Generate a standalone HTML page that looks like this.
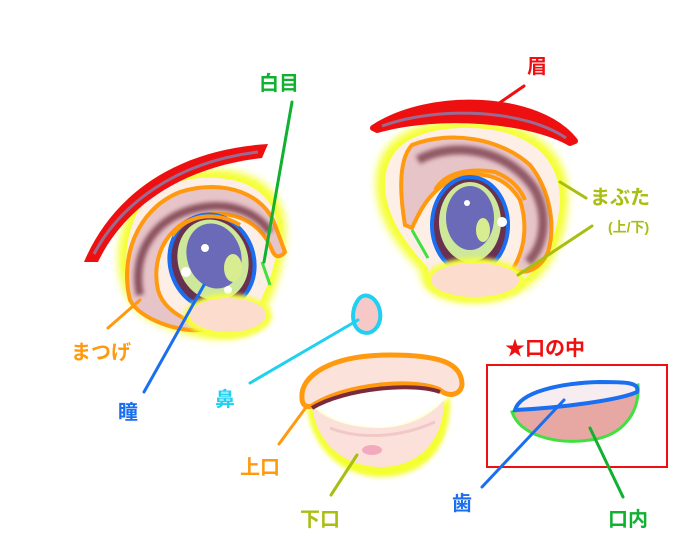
<!DOCTYPE html>
<html><head><meta charset="utf-8"><style>
html,body{margin:0;padding:0;background:#fff;}
svg{display:block;}
text{font-family:"Liberation Sans","Noto Sans CJK JP",sans-serif;font-weight:bold;}
</style></head><body>
<svg width="700" height="560" viewBox="0 0 700 560" xmlns="http://www.w3.org/2000/svg">
<defs>
<filter id="blur" x="-20%" y="-20%" width="140%" height="140%"><feGaussianBlur stdDeviation="4"/></filter>
<filter id="b2"><feGaussianBlur stdDeviation="2"/></filter>
</defs>
<rect width="700" height="560" fill="#fff"/>

<!-- LEFT EYE -->
<path d="M200,170 C260,165 290,195 285,240 C282,280 270,300 260,320 C250,345 200,345 150,320 C115,300 110,250 130,210 C145,185 175,172 200,170Z" fill="#f4ff30" filter="url(#blur)"/>
<path d="M200,178 C255,175 280,200 278,240 C275,275 262,298 252,318 C240,338 200,336 155,316 C122,298 120,252 136,215 C150,190 175,180 200,178Z" fill="#fdeee6"/>
<path d="M84,262 C110,200 170,150 268,144 L262,158 C175,168 122,212 98,262Z" fill="#ee1010"/>
<path d="M94,254 C120,205 175,162 258,152" stroke="#9a6a90" stroke-width="3" fill="none"/>
<path d="M130,300 C120,260 135,210 180,192 C225,178 265,195 275,225 L285,252 C280,258 275,258 272,250 C262,225 240,212 210,214 C170,218 150,255 158,290 C162,305 175,315 192,322 L200,330 C180,332 140,320 130,300Z" fill="#e7c4c8" stroke="#ff9a10" stroke-width="4"/>
<path d="M140,295 C132,258 150,222 190,210 C225,200 255,210 270,232" stroke="#6a2a3a" stroke-width="8" fill="none" opacity=".75" filter="url(#b2)"/>
<ellipse cx="212" cy="262" rx="42" ry="48" transform="rotate(-18 212 262)" fill="#6a3050" stroke="#1a6ef0" stroke-width="4"/>
<ellipse cx="213" cy="260" rx="35" ry="41" transform="rotate(-18 213 260)" fill="#cde89a"/>
<ellipse cx="214" cy="256" rx="27" ry="33" transform="rotate(-18 214 256)" fill="#6a6ab8"/>
<ellipse cx="233" cy="268" rx="9" ry="14" fill="#d8ec90"/>
<circle cx="205" cy="248" r="4" fill="#fff"/>
<circle cx="186" cy="272" r="5" fill="#fff"/>
<circle cx="228" cy="290" r="4" fill="#fff"/>
<path d="M172,236 C185,215 215,210 240,225" stroke="#ff9a10" stroke-width="4" fill="none"/>
<path d="M262,262 L270,285" stroke="#40e040" stroke-width="3"/>
<ellipse cx="228" cy="316" rx="44" ry="22" fill="#f6ff40" filter="url(#b2)"/>
<ellipse cx="228" cy="315" rx="38" ry="17" fill="#fcdccd"/>

<!-- RIGHT EYE -->
<path d="M460,120 C530,118 570,150 568,200 C566,250 540,300 480,302 C440,304 420,290 420,270 C400,250 375,220 376,180 C378,140 410,122 460,120Z" fill="#f4ff30" filter="url(#blur)"/>
<path d="M460,128 C525,126 560,155 560,200 C558,245 535,292 480,294 C445,296 428,284 428,268 C410,248 384,218 385,182 C387,145 415,130 460,128Z" fill="#fdeee6"/>
<path d="M373,128 C430,90 540,95 575,141 L570,143 C530,120 440,112 377,130Z" fill="#ee1010" stroke="#ee1010" stroke-width="6" stroke-linejoin="round"/>
<path d="M382,126 C440,105 525,110 566,138" stroke="#9a6a90" stroke-width="3" fill="none"/>
<path d="M405,225 C400,195 398,160 412,145 C450,130 500,138 530,165 C550,190 556,225 548,252 C540,270 525,275 512,270 C525,250 528,225 520,200 C505,175 480,170 455,178 C430,190 420,210 412,228Z" fill="#e7c4c8" stroke="#ff9a10" stroke-width="4"/>
<path d="M418,160 C455,140 510,150 535,190 C548,215 545,245 528,262" stroke="#6a2a3a" stroke-width="9" fill="none" opacity=".7" filter="url(#b2)"/>
<ellipse cx="470" cy="225" rx="38" ry="48" fill="#6a3050" stroke="#1a6ef0" stroke-width="4"/>
<ellipse cx="470" cy="222" rx="31" ry="40" fill="#cde89a"/>
<ellipse cx="470" cy="218" rx="24" ry="32" fill="#6a6ab8"/>
<ellipse cx="483" cy="230" rx="7" ry="12" fill="#d8ec90"/>
<circle cx="467" cy="203" r="3" fill="#fff"/>
<circle cx="502" cy="222" r="5" fill="#fff"/>
<path d="M435,190 C445,172 470,168 495,172 C510,178 520,188 525,200" stroke="#ff9a10" stroke-width="4" fill="none"/>
<path d="M412,230 L428,258" stroke="#40e040" stroke-width="3"/>
<ellipse cx="475" cy="280" rx="50" ry="22" fill="#f6ff40" filter="url(#b2)"/>
<ellipse cx="475" cy="280" rx="44" ry="17" fill="#fcdccd"/>

<!-- NOSE -->
<path d="M358,300 C365,290 378,298 380,312 C382,326 372,336 362,332 C352,328 350,312 358,300Z" fill="#f6c9c8" stroke="#20d0f0" stroke-width="4"/>

<!-- MOUTH -->
<path d="M306,402 C310,445 338,476 380,477 C428,477 452,444 450,396 C430,420 400,430 380,430 C350,430 325,422 306,402Z" fill="#f4ff30" filter="url(#b2)"/>
<path d="M312,406 C316,440 340,466 380,467 C422,467 444,438 444,400 C428,420 400,428 380,428 C350,428 326,420 312,406Z" fill="#fce0da"/>
<path d="M330,428 C355,438 395,440 435,422" stroke="#f0c8c8" stroke-width="3" fill="none"/>
<ellipse cx="372" cy="450" rx="10" ry="5" fill="#f3aabe"/>
<path d="M302,398 C300,376 330,355 390,355 C440,355 462,363 462,385 C460,396 448,397 440,390 C415,378 345,384 312,406 C305,408 302,404 302,398Z" fill="#fbe2da" stroke="#ff9a10" stroke-width="5"/>
<path d="M312,408 C345,388 415,382 440,392" stroke="#7a2a3a" stroke-width="4" fill="none"/>

<!-- BOX -->
<rect x="487" y="365" width="180" height="102" fill="none" stroke="#ee1010" stroke-width="2"/>
<path d="M512,412 C520,435 555,445 590,440 C625,436 640,410 638,385 C600,395 540,405 512,412Z" fill="#e7a8a4" stroke="#40e040" stroke-width="3"/>
<path d="M515,410 C520,392 560,383 600,382 C625,382 640,382 637,392 C620,400 560,408 515,410Z" fill="#f7ecf0" stroke="#1a6ef0" stroke-width="4"/>

<!-- LEADER LINES -->
<g stroke-width="3" fill="none" stroke-linecap="round">
<line x1="292" y1="102" x2="264" y2="262" stroke="#10b030"/>
<line x1="108" y1="328" x2="140" y2="300" stroke="#ff9a10"/>
<line x1="144" y1="392" x2="204" y2="285" stroke="#1a6ef0"/>
<line x1="524" y1="86" x2="492" y2="108" stroke="#ee1010"/>
<line x1="560" y1="182" x2="586" y2="198" stroke="#a8be10"/>
<line x1="518" y1="275" x2="592" y2="226" stroke="#a8be10"/>
<line x1="250" y1="383" x2="358" y2="320" stroke="#20d0f0"/>
<line x1="279" y1="444" x2="307" y2="406" stroke="#ff9a10"/>
<line x1="331" y1="495" x2="357" y2="455" stroke="#a8be10"/>
<line x1="482" y1="487" x2="564" y2="400" stroke="#1a6ef0"/>
<line x1="623" y1="497" x2="590" y2="428" stroke="#10b030"/>
</g>

<!-- LABELS -->
<g font-size="20">
<text x="259" y="90" fill="#10b030">白目</text>
<text x="527" y="73" fill="#ee1010">眉</text>
<text x="590" y="204" fill="#a8be10">まぶた</text>
<text x="608" y="232" fill="#a8be10" font-size="14">(上/下)</text>
<text x="71" y="359" fill="#ff9a10">まつげ</text>
<text x="118" y="419" fill="#1a6ef0">瞳</text>
<text x="215" y="406" fill="#20d0f0">鼻</text>
<text x="240" y="474" fill="#ff9a10">上口</text>
<text x="300" y="526" fill="#a8be10">下口</text>
<text x="505" y="355" fill="#ee1010">★口の中</text>
<text x="452" y="510" fill="#1a6ef0">歯</text>
<text x="608" y="526" fill="#10b030">口内</text>
</g>
</svg>
</body></html>
